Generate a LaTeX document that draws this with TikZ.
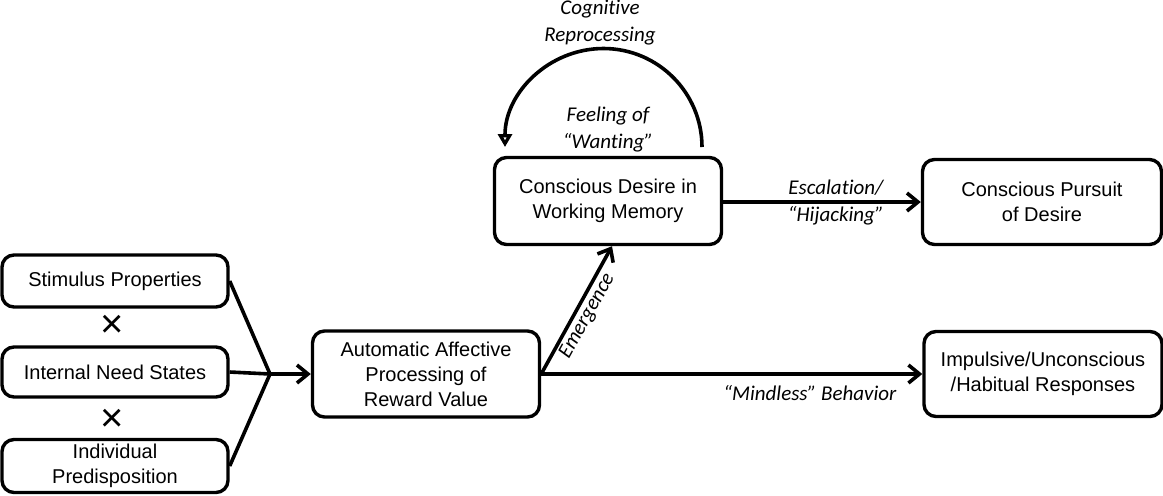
\documentclass[tikz,border=0pt]{standalone}
\usepackage{fontspec}
\setmainfont{Liberation Sans}
\newfontfamily\labelfont[Ligatures=NoCommon]{Carlito}
\usetikzlibrary{arrows.meta, positioning}

\tikzset{
  box/.style={draw, line width=1.7pt, rounded corners=6pt, align=center, inner sep=0pt,
    font=\fontsize{10}{12.5}\selectfont},
  flow/.style={line width=1.8pt, -{Straight Barb[length=5.5pt,width=9pt]}},
  lbl/.style={font=\labelfont\itshape\fontsize{10.5}{12.5}\selectfont, align=center, inner sep=1pt},
  times/.style={font=\fontsize{20}{20}\selectfont, inner sep=0pt},
}

\begin{document}
\begin{tikzpicture}[x=0.5pt, y=-0.5pt]
\useasboundingbox (0,0) rectangle (1163,495);
% Input boxes
\node[box, minimum width=113pt, minimum height=26pt] (stimulus) at (115,281) {Stimulus Properties};
\node[box, minimum width=113pt, minimum height=25pt] (need) at (115,372) {Internal Need States};
\node[box, minimum width=113pt, minimum height=26.5pt] (predisp) at (115,466) {Individual\\Predisposition};
\node[times] (x1) at (112,326) {×};
\node[times] (x2) at (112,420) {×};
% Processing boxes
\node[box, minimum width=113.5pt, minimum height=43pt] (automatic) at (426,374) {Automatic Affective\\Processing of\\Reward Value};
\node[box, minimum width=113.5pt, minimum height=43.5pt] (desire) at (608,201) {Conscious Desire in\\Working Memory};
\node[box, minimum width=119.5pt, minimum height=42.5pt] (pursuit) at (1042,202) {Conscious Pursuit\\of Desire};
\node[box, minimum width=119pt, minimum height=42.5pt] (impulsive) at (1043,374) {Impulsive/Unconscious\\/Habitual Responses};
% Fan in
\coordinate (join) at (270,374);
\draw[line width=1.8pt] (stimulus.east) -- (join);
\draw[line width=1.8pt] (need.east) -- (join);
\draw[line width=1.8pt] (predisp.east) -- (join);
\draw[flow] (join) -- (automatic.west);
% Outgoing arrows
\draw[flow] (automatic.east) -- ([xshift=2pt]desire.south)
  node[lbl, sloped, below, pos=0.5] {Emergence};
\draw[flow] (automatic.east) -- (impulsive.west)
  node[lbl, below=4pt, pos=0.705] {“Mindless” Behavior};
\draw[flow] (desire.east |- pursuit.west) -- (pursuit.west)
  node[lbl, pos=0.57] {Escalation/\\[1pt]“Hijacking”};
% Reprocessing loop
\coordinate (loopR) at (702,147);
\draw[line width=1.8pt, -{Triangle[open, length=6.5pt, width=7pt]}] (loopR) arc (0:-180:98.5) coordinate (loopL);
\node[lbl] (reproc) at (600,23) {Cognitive\\[1pt]Reprocessing};
\node[lbl] (wanting) at (608,129) {Feeling of\\[1pt]“Wanting”};
\end{tikzpicture}
\end{document}
